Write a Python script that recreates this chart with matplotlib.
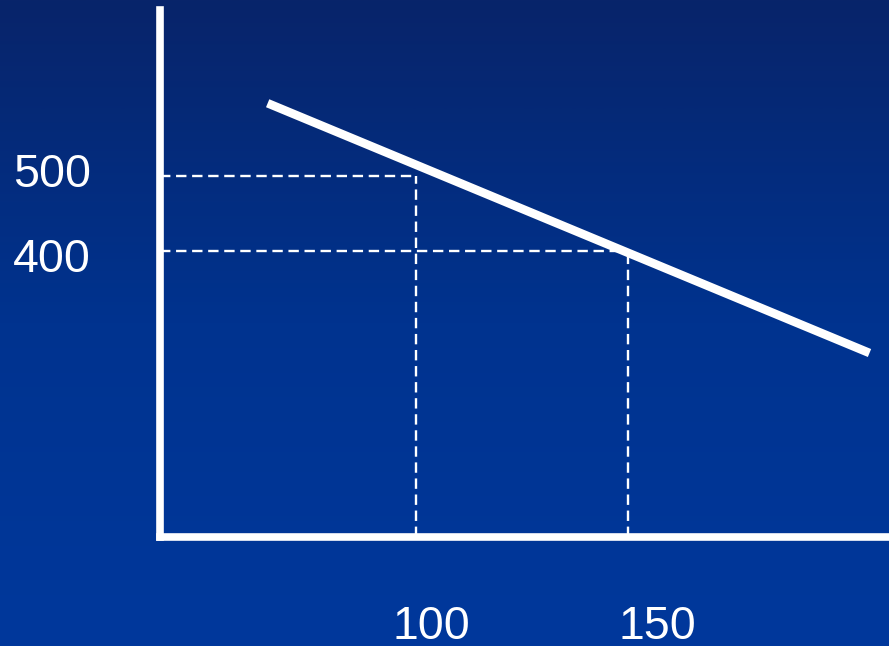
import numpy as np
import matplotlib.pyplot as plt
from matplotlib.colors import LinearSegmentedColormap

# Demand line end points (quantity, price)
line_q = [65, 207]
line_p = [597, 264]

# Reference points marked by dashed guides
ref_q = [100, 150]
ref_p = [500, 400]

# Label offsets (pixels) relative to each guide
q_label_dx = [15, 29]
p_label_dy = [1, -9]

plt.rcParams['font.family'] = ['Liberation Sans', 'DejaVu Sans']

fig = plt.figure(figsize=(8.89, 6.46), dpi=100)

# Gradient background
bg = fig.add_axes([0, 0, 1, 1], zorder=0)
cmap = LinearSegmentedColormap.from_list('slide', ['#08246a', '#00338f', '#00389c'])
grad = np.linspace(0, 1, 256).reshape(-1, 1)
bg.imshow(grad, aspect='auto', cmap=cmap, extent=[0, 1, 0, 1], origin='upper')
bg.set_axis_off()

W, H = 889, 646
left, right, bottom, top = 160, 889, 537, 10
ax = fig.add_axes([left / W, (H - bottom) / H, (right - left) / W, (bottom - top) / H], zorder=1)
ax.set_facecolor('none')
ax.set_xlim(39.6, 211.6)
ax.set_ylim(18.7, 721.3)

for s in ['top', 'right']:
    ax.spines[s].set_visible(False)
for s in ['left', 'bottom']:
    ax.spines[s].set_color('white')
    ax.spines[s].set_linewidth(5.5)
ax.set_xticks([])
ax.set_yticks([])

# Dashed guides from each axis to the reference points
for q, p in zip(ref_q, ref_p):
    ax.plot([ax.get_xlim()[0], q], [p, p], color='white', lw=1.7,
            linestyle=(0, (4.4, 2.4)), zorder=2)
    ax.plot([q, q], [ax.get_ylim()[0], p], color='white', lw=1.7,
            linestyle=(0, (4.4, 2.4)), zorder=2)

ax.plot(line_q, line_p, color='white', lw=6.2, solid_capstyle='butt', zorder=3)

for q, dx in zip(ref_q, q_label_dx):
    ax.annotate(str(q), xy=(q, 0), xycoords=('data', 'axes fraction'),
                xytext=(dx, -90), textcoords='offset pixels',
                ha='center', va='center', color='white', fontsize=33.5,
                annotation_clip=False)

for p, dy in zip(ref_p, p_label_dy):
    ax.annotate(str(p), xy=(0, p), xycoords=('axes fraction', 'data'),
                xytext=(-108, dy), textcoords='offset pixels',
                ha='center', va='center', color='white', fontsize=33.5,
                annotation_clip=False)

fig.savefig('out.png', dpi=100)
